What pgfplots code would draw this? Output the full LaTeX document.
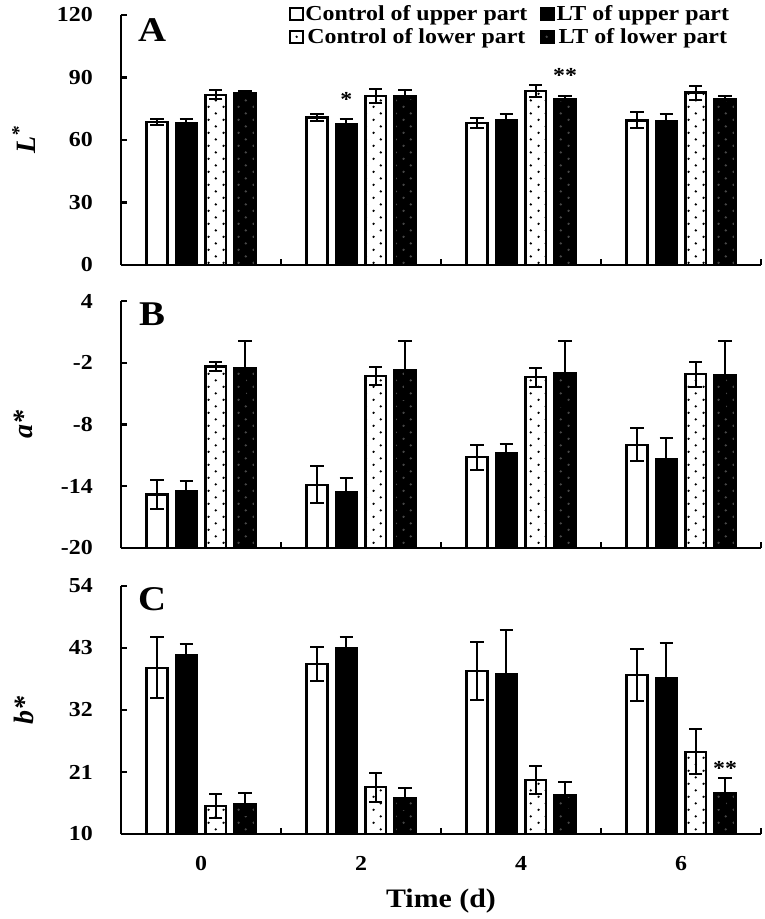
\documentclass[border=0pt]{standalone}
\usepackage{fontspec}
\setmainfont{Liberation Serif}[FakeStretch=1.12]
\newfontfamily\labfont{Liberation Serif}
\usepackage{pgfplots}
\pgfplotsset{compat=1.18}
\usetikzlibrary{patterns.meta}

\tikzdeclarepattern{
  name=sdots,
  type=uncolored,
  bounding box={(0pt,0pt) and (11pt,10pt)},
  tile size={(11pt,10pt)},
  code={
    \fill (2.75pt,2.5pt) circle (1pt);
    \fill (8.25pt,7.5pt) circle (1pt);
  }
}

\newcommand\tickfont{\fontsize{16}{18}\selectfont\bfseries}
\newcommand\legfont{\fontsize{16}{18}\selectfont\bfseries}
\newcommand\panfont{\fontsize{26}{30}\selectfont\bfseries}
\newcommand\ylabfont{\labfont\fontsize{21}{24}\selectfont\bfseries\itshape}
\newcommand\xlabfont{\fontsize{20}{24}\selectfont\bfseries}

\pgfplotsset{
  panel/.style={
    scale only axis, width=480pt,
    xmin=0, xmax=4,
    axis x line*=bottom, axis y line*=left,
    axis line style={line width=2.2pt, -},
    tick align=inside,
    tick style={line width=1.6pt, black},
    major tick length=4.5pt,
    xtick={0,1,2,3,4}, xticklabels={},
    clip=false,
    yticklabel style={font=\tickfont, anchor=east, inner sep=0pt, xshift=-21pt},
    every axis y label/.style={at={(axis description cs:-0.152,0.5)}, rotate=90, anchor=center, font=\ylabfont},
  },
  bars/.style={
    ybar, bar width=15.5pt, bar shift=0pt, draw=black, line width=1.8pt,
    error bars/.cd, y dir=both, y explicit,
    error bar style={line width=1.5pt, black},
    error mark options={rotate=90, mark size=5pt, line width=1.5pt, black},
    /pgfplots/.cd,
    legend image code/.code={\draw[##1,/tikz/.cd,line width=1.6pt] (0pt,-4.5pt) rectangle (9.5pt,4.5pt);},
  },
  cu/.style={bars, fill=white},
  lu/.style={bars, fill=black},
  cl/.style={bars, fill=white, postaction={pattern=sdots, pattern color=black}},
  ll/.style={bars, fill=black, postaction={pattern=sdots, pattern color=black!72}},
}

% x positions: group centres 0.5, 1.5, 2.5, 3.5; bars offset by -0.275, -0.092, +0.092, +0.275
\begin{document}
\begin{tikzpicture}
\path[use as bounding box] (-90.75pt,-490.5pt) rectangle (482.25pt,198.75pt);

% Panel A
\begin{axis}[panel, at={(0pt,0pt)}, height=187.5pt,
  ymin=0, ymax=120, ytick={0,30,60,90,120}, yticklabels={0,30,60,90,120},
  ylabel={L\textsuperscript{*}},
  legend columns=2,
  legend style={draw=none, fill=none, at={(rel axis cs:0.953,1.045)}, anchor=north east,
    font=\legfont, inner sep=0pt, row sep=2pt, nodes={inner sep=1.2pt},
    /tikz/every even column/.append style={column sep=8.5pt}},
]
\addplot[cu] coordinates {(0.225,68.6) +- (0,1.6) (1.225,70.7) +- (0,1.7) (2.225,68.3) +- (0,2.4) (3.225,69.4) +- (0,3.8)};
\addlegendentry{Control of upper part}
\addplot[lu] coordinates {(0.408,68.1) +- (0,1.9) (1.408,67.5) +- (0,2.4) (2.408,69.7) +- (0,3.0) (3.408,68.8) +- (0,3.6)};
\addlegendentry{LT of upper part}
\addplot[cl] coordinates {(0.592,81.7) +- (0,2.1) (1.592,81.2) +- (0,3.5) (2.592,83.5) +- (0,2.7) (3.592,82.7) +- (0,3.3)};
\addlegendentry{Control of lower part}
\addplot[ll] coordinates {(0.775,82.3) +- (0,1.2) (1.775,81.2) +- (0,2.6) (2.775,79.5) +- (0,1.6) (3.775,79.5) +- (0,1.6)};
\addlegendentry{LT of lower part}
\node[font=\panfont] at (rel axis cs:0.0485,0.94) {A};
\node[font=\tickfont] at (axis cs:1.408,79.5) {*};
\node[font=\tickfont] at (axis cs:2.775,91.0) {**};
\end{axis}

% Panel B
\begin{axis}[panel, at={(0pt,-212.25pt)}, height=185.25pt,
  y coord trafo/.code={\pgfmathparse{#1+20}},
  y coord inv trafo/.code={\pgfmathparse{#1-20}},
  ymin=-20, ymax=4, ytick={-20,-14,-8,-2,4}, yticklabels={-20,-14,-8,-2,4},
  ylabel={a*},
]
\addplot[cu] coordinates {(0.225,-14.8) +- (0,1.4) (1.225,-13.86) +- (0,1.8) (2.225,-11.18) +- (0,1.2) (3.225,-9.98) +- (0,1.6)};
\addplot[lu] coordinates {(0.408,-14.45) +- (0,1.0) (1.408,-14.55) +- (0,1.4) (2.408,-10.79) +- (0,0.9) (3.408,-11.41) +- (0,2.05)};
\addplot[cl] coordinates {(0.592,-2.37) +- (0,0.4) (1.592,-3.28) +- (0,0.85) (2.592,-3.41) +- (0,0.9) (3.592,-3.12) +- (0,1.2)};
\addplot[ll] coordinates {(0.775,-2.53) +- (0,2.6) (1.775,-2.69) +- (0,2.8) (2.775,-3.05) +- (0,3.2) (3.775,-3.22) +- (0,3.3)};
\node[font=\panfont] at (rel axis cs:0.0485,0.945) {B};
\end{axis}

% Panel C
\begin{axis}[panel, at={(0pt,-426.75pt)}, height=186pt,
  y coord trafo/.code={\pgfmathparse{#1-10}},
  y coord inv trafo/.code={\pgfmathparse{#1+10}},
  ymin=10, ymax=54, ytick={10,21,32,43,54}, yticklabels={10,21,32,43,54},
  ylabel={b*},
  extra x ticks={0.5,1.5,2.5,3.5}, extra x tick labels={0,2,4,6},
  extra x tick style={major tick length=0pt,
    xticklabel style={font=\tickfont, anchor=north, inner sep=0pt, yshift=-16.5pt}},
  xlabel={Time (d)},
  every axis x label/.style={at={(axis description cs:0.5,-0.222)}, anchor=north, inner sep=0pt, font=\xlabfont},
]
\addplot[cu] coordinates {(0.225,39.5) +- (0,5.4) (1.225,40.2) +- (0,3.0) (2.225,38.9) +- (0,5.1) (3.225,38.2) +- (0,4.6)};
\addplot[lu] coordinates {(0.408,41.7) +- (0,2.1) (1.408,43.0) +- (0,1.9) (2.408,38.3) +- (0,7.9) (3.408,37.6) +- (0,6.3)};
\addplot[cl] coordinates {(0.592,15.0) +- (0,2.1) (1.592,18.3) +- (0,2.6) (2.592,19.6) +- (0,2.5) (3.592,24.6) +- (0,4.0)};
\addplot[ll] coordinates {(0.775,15.3) +- (0,2.0) (1.775,16.3) +- (0,1.8) (2.775,16.8) +- (0,2.5) (3.775,17.3) +- (0,2.6)};
\node[font=\panfont] at (rel axis cs:0.0485,0.945) {C};
\node[font=\tickfont] at (axis cs:3.775,21.6) {**};
\end{axis}
\end{tikzpicture}
\end{document}
